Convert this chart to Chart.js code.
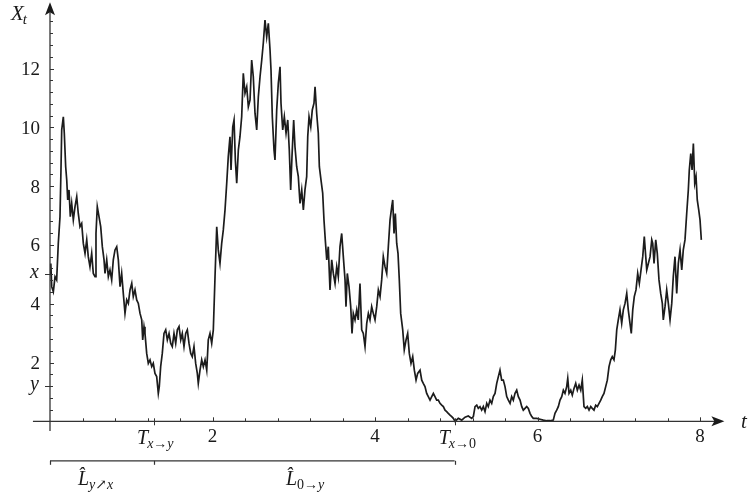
<!DOCTYPE html>
<html>
<head>
<meta charset="utf-8">
<script src="https://cdn.jsdelivr.net/npm/chart.js@4"></script>
<style>
html,body{margin:0;padding:0;background:#fff;}
#wrap{width:751px;height:497px;}
</style>
</head>
<body>
<div id="wrap"><canvas id="c" width="751" height="497"></canvas></div>
<script>
// ---- data ----
const times = [0,0.01,0.021,0.041,0.062,0.082,0.102,0.123,0.135,0.144,0.164,0.176,0.193,0.206,0.218,0.234,0.25,0.267,0.287,0.308,0.329,0.348,0.369,0.39,0.41,0.431,0.452,0.471,0.492,0.513,0.533,0.554,0.566,0.582,0.603,0.624,0.644,0.665,0.677,0.698,0.718,0.738,0.759,0.779,0.8,0.821,0.841,0.862,0.882,0.902,0.923,0.944,0.964,0.985,1.006,1.025,1.046,1.067,1.087,1.108,1.129,1.141,1.157,1.169,1.19,1.21,1.231,1.252,1.271,1.292,1.313,1.333,1.345,1.362,1.382,1.403,1.424,1.444,1.465,1.486,1.505,1.526,1.547,1.567,1.588,1.609,1.628,1.649,1.67,1.69,1.711,1.732,1.751,1.772,1.793,1.813,1.825,1.846,1.867,1.887,1.908,1.929,1.948,1.969,1.99,2.01,2.031,2.052,2.071,2.092,2.113,2.133,2.154,2.175,2.194,2.215,2.228,2.249,2.265,2.281,2.298,2.318,2.338,2.359,2.379,2.4,2.421,2.441,2.462,2.482,2.502,2.523,2.544,2.564,2.585,2.606,2.625,2.646,2.667,2.687,2.708,2.72,2.736,2.757,2.769,2.79,2.81,2.831,2.843,2.864,2.884,2.905,2.926,2.945,2.962,2.978,2.999,3.015,3.036,3.056,3.077,3.098,3.118,3.138,3.159,3.172,3.188,3.209,3.228,3.249,3.262,3.282,3.302,3.315,3.335,3.356,3.372,3.388,3.406,3.425,3.446,3.467,3.487,3.508,3.529,3.548,3.569,3.59,3.61,3.631,3.643,3.659,3.68,3.701,3.717,3.733,3.754,3.775,3.794,3.815,3.836,3.856,3.877,3.898,3.918,3.938,3.959,3.979,4.0,4.021,4.041,4.062,4.082,4.102,4.123,4.144,4.164,4.185,4.206,4.218,4.234,4.25,4.267,4.283,4.299,4.316,4.341,4.36,4.382,4.402,4.422,4.443,4.464,4.484,4.505,4.525,4.554,4.575,4.594,4.615,4.636,4.656,4.677,4.698,4.718,4.738,4.759,4.779,4.8,4.821,4.841,4.862,4.882,4.902,4.923,4.944,4.964,4.985,5.025,5.067,5.108,5.148,5.19,5.21,5.231,5.252,5.271,5.292,5.313,5.333,5.354,5.375,5.394,5.415,5.436,5.456,5.477,5.498,5.518,5.538,5.559,5.579,5.6,5.621,5.641,5.662,5.682,5.702,5.723,5.744,5.764,5.785,5.806,5.825,5.846,5.867,5.887,5.908,5.929,5.948,5.99,6.031,6.071,6.113,6.154,6.194,6.215,6.236,6.256,6.277,6.298,6.318,6.338,6.359,6.372,6.388,6.409,6.428,6.449,6.47,6.49,6.511,6.532,6.551,6.572,6.593,6.613,6.634,6.655,6.674,6.695,6.716,6.736,6.757,6.778,6.797,6.818,6.839,6.859,6.88,6.901,6.92,6.941,6.958,6.975,6.994,7.015,7.036,7.056,7.077,7.098,7.117,7.138,7.154,7.172,7.191,7.212,7.233,7.253,7.274,7.295,7.314,7.332,7.344,7.364,7.385,7.406,7.418,7.434,7.455,7.474,7.495,7.516,7.536,7.548,7.569,7.59,7.61,7.631,7.652,7.671,7.692,7.713,7.733,7.754,7.775,7.794,7.815,7.836,7.856,7.868,7.886,7.902,7.918,7.935,7.951,7.966,7.984,8.0,8.016];
const values = [5.0,5.37,4.58,4.41,4.92,4.81,6.05,6.96,8.55,9.91,10.36,9.8,8.66,8.21,7.53,7.87,6.96,7.41,6.85,7.3,7.64,7.07,6.62,6.73,6.05,5.71,6.17,5.6,5.26,5.71,5.03,4.92,6.39,7.3,6.96,6.62,5.94,5.49,5.03,5.49,4.92,5.15,4.81,5.49,5.83,5.94,5.49,4.58,5.03,4.35,3.67,4.13,4.01,4.47,4.69,4.24,4.47,4.13,4.01,3.67,3.45,2.77,3.22,2.99,2.31,1.97,2.09,1.86,1.97,1.63,1.52,0.95,1.18,1.86,2.31,2.99,3.11,2.77,2.99,2.65,2.54,2.99,2.65,3.11,3.22,2.77,2.99,2.54,2.99,3.11,2.65,2.31,2.2,2.54,1.97,1.63,1.29,1.74,2.09,1.86,2.09,1.74,2.77,2.99,2.65,3.11,4.92,6.62,5.83,5.37,6.05,6.51,7.19,8.1,9.0,9.68,8.55,10.02,10.25,8.89,8.1,9.23,9.68,10.36,11.84,11.16,11.38,10.7,10.93,12.29,11.72,10.48,9.91,11.04,11.72,12.29,12.86,13.65,13.08,13.54,12.63,11.95,10.36,9.23,8.89,10.59,11.5,12.06,10.82,9.91,10.36,9.8,10.25,9.23,7.87,9.0,10.25,9.34,8.66,8.32,7.41,7.87,7.19,7.87,8.32,9.68,10.36,10.02,10.59,10.82,11.38,10.48,9.8,8.66,8.21,7.76,6.85,6.17,5.49,5.94,4.47,5.49,5.03,4.69,5.26,4.92,5.94,6.39,5.6,4.81,3.9,5.03,4.58,3.9,2.99,3.67,3.45,3.79,3.45,4.69,3.11,2.99,2.54,3.33,3.67,3.45,3.9,3.67,3.45,3.9,4.47,4.24,4.81,5.6,5.26,5.03,5.94,6.85,7.3,7.53,6.39,7.07,6.05,5.71,4.81,3.67,3.11,2.43,2.77,2.99,2.31,1.97,2.2,1.74,1.4,1.63,1.74,1.4,1.29,1.18,0.95,0.84,0.72,0.84,0.95,0.84,0.72,0.72,0.61,0.55,0.5,0.38,0.33,0.27,0.21,0.16,0.1,0.0,0.1,0.04,0.14,0.18,0.1,0.16,0.5,0.55,0.44,0.5,0.38,0.5,0.33,0.61,0.5,0.72,0.61,0.84,0.95,1.29,1.52,1.74,1.4,1.4,1.18,0.84,0.72,0.61,0.84,0.72,0.95,1.06,0.84,0.72,0.5,0.38,0.44,0.5,0.44,0.27,0.16,0.1,0.1,0.07,0.04,0.02,0.02,0.04,0.27,0.38,0.5,0.72,0.84,1.06,0.95,1.18,1.46,0.95,1.06,0.89,1.12,1.29,1.06,1.23,1.06,1.4,0.5,0.44,0.5,0.38,0.5,0.44,0.38,0.55,0.5,0.61,0.72,0.84,0.95,1.18,1.4,1.86,2.09,2.2,2.09,2.43,3.11,3.45,3.79,3.33,3.79,4.01,4.35,3.79,3.33,2.99,3.79,4.24,4.47,5.03,4.69,5.15,5.6,6.28,5.6,5.15,5.37,5.6,6.17,6.05,5.37,6.17,5.71,4.81,4.35,4.01,3.45,3.9,4.47,4.01,3.45,4.01,4.92,5.6,4.35,5.37,5.83,5.15,5.83,6.17,7.07,7.87,8.55,9.11,8.55,9.45,8.1,8.32,7.53,7.19,6.85,6.17];
const yTickValues = [2,4,6,8,10,12];
const xTickValues = [2,4,6,8];
const xLevel = 5.0;      // level "x"
const yLevel = 1.2;      // level "y"
const tHitY = 1.28;      // T_{x->y}
const tHit0 = 4.98;      // T_{x->0}

const points = times.map((t,i)=>({x:t, y:values[i]}));

const SERIF = '"Liberation Serif","DejaVu Serif",serif';
function drawParts(ctx, parts, x, y, align){
  let w = 0;
  parts.forEach(p=>{ ctx.font = (p.it?'italic ':'')+p.sz+'px '+SERIF; p.w = ctx.measureText(p.t).width; w += p.w + (p.gap||0); });
  let cx = align==='center' ? x - w/2 : (align==='right' ? x - w : x);
  parts.forEach(p=>{ ctx.font = (p.it?'italic ':'')+p.sz+'px '+SERIF; ctx.fillText(p.t, cx, y + (p.dy||0)); cx += p.w + (p.gap||0); });
}

const axesPlugin = {
  id:'axesPlugin',
  afterDatasetsDraw(chart){
    const ctx = chart.ctx, xs = chart.scales.x, ys = chart.scales.y;
    const X = v=>xs.getPixelForValue(v), Y = v=>ys.getPixelForValue(v);
    const x0 = X(0), y0 = Y(0);
    ctx.save();
    ctx.strokeStyle = '#333'; ctx.fillStyle = '#1a1a1a'; ctx.lineWidth = 1.3;
    // x axis
    ctx.beginPath(); ctx.moveTo(X(-0.21), y0); ctx.lineTo(X(8.22), y0); ctx.stroke();
    ctx.beginPath(); ctx.moveTo(X(8.3), y0); ctx.lineTo(X(8.3)-13, y0-5); ctx.lineTo(X(8.3)-10, y0); ctx.lineTo(X(8.3)-13, y0+5); ctx.closePath(); ctx.fill();
    // y axis
    ctx.beginPath(); ctx.moveTo(x0, Y(-0.33)); ctx.lineTo(x0, Y(13.95)); ctx.stroke();
    ctx.beginPath(); ctx.moveTo(x0, Y(14.25)); ctx.lineTo(x0-5, Y(14.25)+13); ctx.lineTo(x0, Y(14.25)+10); ctx.lineTo(x0+5, Y(14.25)+13); ctx.closePath(); ctx.fill();
    // x ticks every 0.4
    ctx.lineWidth = 1;
    for (let k=1;k<=20;k++){
      const v = k*0.4; const px = Math.round(X(v))+0.5;
      const major = Math.abs(v/2-Math.round(v/2))<1e-6;
      ctx.beginPath(); ctx.moveTo(px, y0); ctx.lineTo(px, y0-(major?4:3)); ctx.stroke();
    }
    // y ticks every 0.4
    for (let k=1;k<=34;k++){
      const v = k*0.4; const py = Math.round(Y(v))+0.5;
      const major = Math.abs(v/2-Math.round(v/2))<1e-6;
      ctx.beginPath(); ctx.moveTo(x0, py); ctx.lineTo(x0+(major?4:3), py); ctx.stroke();
    }
    // special ticks
    [xLevel,yLevel].forEach(v=>{ const py=Math.round(Y(v))+0.5; ctx.beginPath(); ctx.moveTo(x0-5,py); ctx.lineTo(x0+3,py); ctx.stroke(); });
    [tHitY,tHit0].forEach(v=>{ const px=Math.round(X(v))+0.5; ctx.beginPath(); ctx.moveTo(px,y0-3); ctx.lineTo(px,y0+4); ctx.stroke(); });
    // labels
    ctx.fillStyle = '#1a1a1a'; ctx.textBaseline = 'alphabetic';
    ctx.textAlign = 'left';
    yTickValues.forEach(v=>{ drawParts(ctx,[{t:String(v),sz:19}], x0-10, Y(v)+6.5, 'right'); });
    drawParts(ctx,[{t:'x',sz:20,it:true}], x0-11, Y(xLevel)+4, 'right');
    drawParts(ctx,[{t:'y',sz:20,it:true}], x0-11, Y(yLevel)+4, 'right');
    xTickValues.forEach(v=>{ drawParts(ctx,[{t:String(v),sz:19}], X(v), y0+21, 'center'); });
    drawParts(ctx,[{t:'T',sz:20,it:true,gap:-1},{t:'x',sz:14,it:true,dy:4},{t:'\u2192',sz:14,dy:4},{t:'y',sz:14,it:true,dy:4}], X(tHitY)-17, y0+23, 'left');
    drawParts(ctx,[{t:'T',sz:20,it:true,gap:-1},{t:'x',sz:14,it:true,dy:4},{t:'\u2192',sz:14,dy:4},{t:'0',sz:14,dy:4}], X(tHit0)-16, y0+23, 'left');
    drawParts(ctx,[{t:'X',sz:21,it:true,gap:-1},{t:'t',sz:15,it:true,dy:4}], 11, 20, 'left');
    drawParts(ctx,[{t:'t',sz:21,it:true}], 741, y0+7, 'left');
    // bracket below axis
    const by = y0 + 39.5;
    ctx.lineWidth = 1.2; ctx.strokeStyle = '#333';
    ctx.beginPath(); ctx.moveTo(x0, by); ctx.lineTo(X(tHit0), by); ctx.stroke();
    [0,tHitY,tHit0].forEach(v=>{ const px=Math.round(X(v))+0.5; ctx.beginPath(); ctx.moveTo(px,by); ctx.lineTo(px,by+4); ctx.stroke(); });
    drawParts(ctx,[{t:'L\u0302',sz:20,it:true},{t:'y',sz:14,it:true,dy:4},{t:'\u2197',sz:14,dy:4},{t:'x',sz:14,it:true,dy:4}], 78, y0+64, 'left');
    drawParts(ctx,[{t:'L\u0302',sz:20,it:true},{t:'0',sz:14,dy:4},{t:'\u2192',sz:14,dy:4},{t:'y',sz:14,it:true,dy:4}], 286, y0+64, 'left');
    ctx.restore();
  }
};

new Chart(document.getElementById('c'), {
  type:'line',
  data:{ datasets:[{ data: points, borderColor:'#1c1c1c', borderWidth:1.7, pointRadius:0, tension:0, fill:false }] },
  options:{
    responsive:false, animation:false, parsing:true,
    layout:{ padding:{ left:33.75, right:26.6, top:0.9, bottom:2.2 } },
    plugins:{ legend:{display:false}, tooltip:{enabled:false} },
    scales:{
      x:{ type:'linear', min:-0.2, max:8.3, display:false },
      y:{ type:'linear', min:-2.5, max:14.3, display:false }
    }
  },
  plugins:[axesPlugin]
});
</script>
</body>
</html>
